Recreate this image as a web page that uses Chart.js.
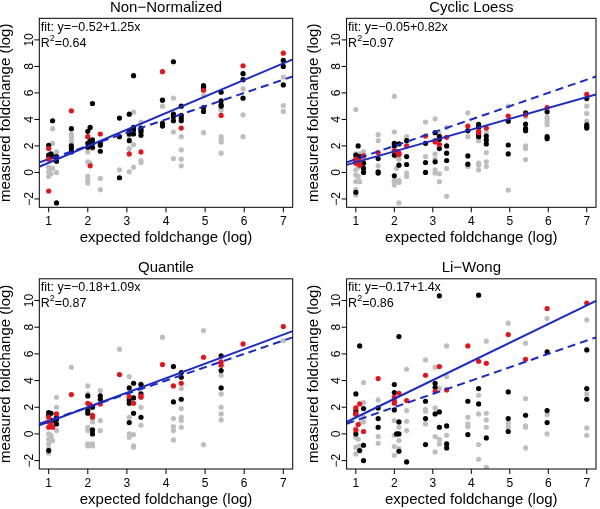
<!DOCTYPE html>
<html>
<head>
<meta charset="utf-8">
<script src="https://cdn.jsdelivr.net/npm/chart.js@4"></script>
<style>
  body { margin: 0; background: #fff; }
  canvas { position: absolute; }
</style>
</head>
<body>
<canvas id="p1" width="300" height="254" style="left:0;top:0"></canvas>
<canvas id="p2" width="300" height="254" style="left:300px;top:0"></canvas>
<canvas id="p3" width="300" height="255" style="left:0;top:254px"></canvas>
<canvas id="p4" width="300" height="255" style="left:300px;top:254px"></canvas>
<script>
// panel labels and fits
var panelTitles = ['Non\u2212Normalized', 'Cyclic Loess', 'Quantile', 'Li\u2212Wong'];
var fitIntercepts = [-0.52, -0.05, -0.18, -0.17];
var fitSlopes = [1.25, 0.82, 1.09, 1.4];
var rSquared = ['0.64', '0.97', '0.87', '0.86'];
var xTicks = [1, 2, 3, 4, 5, 6, 7];
var yTicks = [-2, 0, 2, 4, 6, 8, 10];
var xLabel = 'expected foldchange (log)';
var yLabel = 'measured foldchange (log)';

// Non-Normalized
var nonNormGray = [[1,1.2],[1,0.4],[1,0.05],[1,-0.3],[1.06,0.9],[1.06,-0.1],[1.1,3.3],[1.1,2.2],[1.1,0.3],
  [1.2,1.55],[1.2,0],[1.2,0.9],[1.58,2.9],[1.58,2.7],[1.58,2.4],[1.58,2.2],[2,1.55],[2,0.8],[2,-0.3],[2,-0.6],[2,-0.8],
  [2.12,1.8],[2.06,0.7],[2.32,-0.45],[2.32,-1.3],[2.81,0.2],[3.06,2.7],[3.06,1.8],[3.06,0.05],[3.17,4.55],[3.17,2.1],[3.17,0.4],
  [3.36,3.8],[3.36,0.9],[3.36,0.75],[3.91,5.0],[4.19,5.6],[4.19,3.05],[4.19,1.05],[4.39,2.7],[4.39,1.7],[4.39,1.0],[4.39,0.5],
  [4.96,3.0],[4.96,5.8],[5.41,4.7],[5.41,2.7],[5.41,2.5],[5.41,2.3],[5.41,1.45],[5.97,6.3],[5.97,4.35],[5.97,2.7],
  [7,7.2],[7,5.05],[7,4.6]];
var nonNormBlack = [[1,2.05],[1,1.3],[1.06,1.4],[1.1,3.9],[1.1,1.2],[1.2,-2.3],[1.2,1.2],[1.2,0.85],
  [1.58,3.3],[1.58,2.0],[1.58,1.8],[1.58,1.55],[2,3.1],[2,2.2],[2,1.9],[2.06,3.4],[2.12,5.2],[2.06,2.4],[2.12,2.2],[2.12,1.9],[2.12,2.45],
  [2.32,2.2],[2.32,1.6],[2.32,2.05],[2.81,4.1],[2.81,2.7],[2.81,-0.4],[3.06,4.4],[3.06,2.9],[3.06,2.4],[3.06,3.1],
  [3.17,7.3],[3.17,3.4],[3.17,3.2],[3.17,2.9],[3.36,3.35],[3.36,3.05],[3.36,2.8],[3.36,3.2],[3.91,5.45],[3.91,3.7],[3.91,3.5],
  [4.19,8.35],[4.19,4.4],[4.19,4.2],[4.19,3.9],[4.39,5.0],[4.39,4.3],[4.39,4.1],[4.39,3.9],[4.96,6.55],[4.96,6.4],[4.96,4.9],[4.96,4.6],
  [5.41,6.05],[5.41,5.4],[5.41,5.1],[5.41,5.0],[5.97,7.45],[5.97,7.0],[5.97,5.6],[7,8.45],[7,8.0],[7,6.6]];
var nonNormRed = [[1,1.8],[1,1.0],[1,-1.4],[1.58,4.65],[2,2.7],[2.06,0.5],[2.32,2.9],[3.06,1.4],[3.36,1.55],[3.91,7.6],
  [4.39,3.35],[4.96,6.2],[5.41,4.3],[5.97,8.05],[7,9.0]];

// Cyclic Loess
var loessGray = [[1,4.75],[1,1.4],[1,0.7],[1,0.2],[1,-0.2],[1,-0.7],[1,-1.3],[1,-1.7],[1.06,0.4],[1.06,-0.3],[1.1,-0.7],[1.1,1.4],
  [1.2,1.55],[1.2,1.1],[1.58,2.85],[1.58,2.4],[1.58,0.5],[2,5.75],[2,3.05],[2,2.05],[2,-0.6],[2,-0.7],[2,-0.95],[2.06,1.2],[2.06,0.3],
  [2.12,-0.75],[2.12,-0.6],[2.12,-2.3],[2.12,1.0],[2.32,2.7],[2.32,-0.05],[2.32,-0.3],[2.81,3.8],[2.81,1.2],
  [3.06,4.05],[3.06,1.4],[3.06,0.2],[3.06,-0.05],[3.06,1.0],[3.17,-0.7],[3.17,-0.1],[3.17,2.9],[3.36,3.4],[3.36,-1.8],[3.36,0.3],
  [3.91,4.5],[3.91,2.7],[3.91,0.45],[4.19,2.4],[4.19,0.7],[4.19,0.2],[4.19,0.55],[4.39,1.5],[4.39,0.8],[4.39,0.45],[4.39,3.0],
  [4.96,5.0],[4.96,-1.33],[5.41,4.2],[5.41,2.0],[5.41,1.8],[5.41,0.97],[5.97,4.15],[5.97,3.95],[5.97,3.75],[5.97,3.6],
  [7,5.0],[7,4.45],[7,3.87]];
var loessBlack = [[1,1.3],[1,-1.5],[1,0.9],[1.06,2.0],[1.1,1.2],[1.1,0.7],[1.06,1.0],[1.2,0.7],[1.2,0.3],[1.2,0],
  [1.58,1.05],[1.58,0.05],[1.58,-0.05],[2,2.2],[2,2.0],[2,1.3],[2,-0.25],[2.12,2.15],[2.12,0.55],[2.32,2.4],[2.32,1.2],[2.32,0.6],
  [2.81,2.2],[2.81,0.75],[2.81,0],[3.06,3.0],[3.06,0.8],[3.17,2.7],[3.17,1.8],[3.17,2.5],[3.36,2.0],[3.36,1.45],[3.36,0.9],
  [3.91,3.15],[3.91,1.25],[3.91,0.62],[4.19,3.62],[4.19,3.4],[4.19,2.7],[4.19,2.85],[4.39,2.75],[4.39,2.45],[4.39,2.15],
  [4.96,3.87],[4.96,2.07],[4.96,1.4],[5.41,4.5],[5.41,3.65],[5.41,3.32],[5.41,3.15],[5.97,4.57],[5.97,2.7],[5.97,2.55],
  [7,5.57],[7,3.6],[7,3.45],[7,3.35]];
var loessRed = [[1,1.0],[1,0.7],[1.06,0.9],[1.1,0.55],[1.1,0.8],[1.2,1.25],[1.58,1.5],[2,1.65],[2.06,1.6],[2.12,1.35],[2.12,1.45],
  [2.32,2.0],[2.81,2.75],[3.06,2.3],[3.06,2.4],[3.17,2.1],[3.36,2.65],[3.91,3.5],[4.19,3.1],[4.19,3.0],[4.39,3.35],[4.96,4.25],
  [5.41,4.35],[5.97,4.9],[7,5.9]];

// Quantile
var quantGray = [[1,0],[1,-0.4],[1,-0.75],[1,-1.1],[1,-1.45],[1.06,-0.1],[1.1,-0.5],[1.06,-0.3],[1.2,2.75],[1.2,2.0],[1.2,0.25],
  [1.58,5.0],[2,3.6],[2,3.0],[2,0.5],[2,0.25],[2,-0.75],[2,-0.9],[2.12,-0.75],[2.12,-0.9],[2.12,0.9],[2.06,-0.8],
  [2.32,3.25],[2.32,1.0],[2.32,0.25],[2.81,6.35],[3.06,4.3],[3.06,1.25],[3.06,-0.25],[3.06,0],[3.17,-0.05],[3.17,-0.9],[3.17,-1.0],
  [3.36,3.75],[3.36,2.0],[3.36,0.65],[3.91,7.25],[4.19,1.15],[4.19,0.55],[4.19,0.25],[4.19,-0.45],
  [4.39,3.4],[4.39,1.9],[4.39,1.25],[4.39,1.0],[4.39,0.5],[4.96,7.75],[4.96,-0.8],
  [5.41,4.4],[5.41,3.0],[5.41,2.0],[5.41,1.5],[5.41,1.05],[7,7.0]];
var quantBlack = [[1,1.6],[1,1.4],[1,-1.25],[1.06,1.55],[1.1,1.0],[1.2,1.1],[1.2,0.75],[1.2,1.25],[2,2.85],[2,1.75],[2,1.55],
  [2.12,2.0],[2.12,0],[2.12,0.3],[2.06,2.1],[2.32,2.85],[2.32,2.6],[3.06,3.45],[3.06,2.55],[3.06,2.3],[3.06,0.85],
  [3.17,3.8],[3.17,2.7],[3.17,1.55],[3.36,3.7],[3.36,3.0],[3.36,1.25],[4.19,5.05],[4.19,2.4],[4.39,4.6],[4.39,4.25],[4.39,2.6],
  [5.41,5.85],[5.41,4.75],[5.41,3.45]];
var quantRed = [[1,1.25],[1,0.5],[1,0.9],[1.06,0.75],[1.1,0.5],[1.2,1.5],[1.58,2.95],[2,2.3],[2.06,2.2],[2.12,1.4],[2.12,1.25],
  [2.32,2.25],[2.81,4.45],[3.06,2.8],[3.17,2.3],[3.36,2.85],[3.36,2.75],[3.91,5.2],[4.19,3.6],[4.39,3.8],[4.96,5.75],
  [5.41,5.4],[5.41,5.15],[5.97,6.75],[7,8.05]];

// Li-Wong
var liwongGray = [[1,0.4],[1,-0.25],[1,-1.0],[1,-1.5],[1.06,-0.4],[1.1,-0.9],[1.1,0.8],[1.2,3.85],[1.2,2.35],[1.2,1.25],[1.2,0.9],
  [1.58,2.55],[1.58,-0.2],[1.58,-0.7],[2,1.0],[2,-0.95],[2,-1.6],[2,-0.1],[2.12,-0.5],[2.12,-1.1],[2.12,0.5],
  [2.32,4.85],[2.32,1.75],[2.32,0.95],[2.32,0.25],[2.81,5.55],[2.81,1.85],[2.81,1.7],[2.81,0.75],
  [3.06,5.0],[3.06,1.95],[3.06,-0.2],[3.06,-1.35],[3.17,3.4],[3.17,-0.4],[3.17,-0.75],[3.36,6.6],[3.36,4.3],[3.36,-0.1],
  [3.91,1.25],[3.91,0.75],[3.91,0.55],[4.19,2.9],[4.19,1.5],[4.19,-0.8],[4.19,-1.9],
  [4.39,6.95],[4.39,1.55],[4.39,1.05],[4.39,0.5],[4.39,-2.5],[4.96,8.3],[4.96,0.8],[4.96,0.5],
  [5.41,6.8],[5.41,2.65],[5.41,0.6],[5.41,0.5],[5.41,-1.05],[5.97,8.65],[5.97,1.45],[5.97,0],
  [7,8.55],[7,3.0],[7,0.45],[7,-0.1]];
var liwongBlack = [[1,3.0],[1,1.75],[1,1.5],[1,0],[1.1,6.6],[1.1,-1.25],[1.2,1.9],[1.2,-0.85],[1.2,-2.0],
  [1.58,1.95],[1.58,1.15],[1.58,0.5],[2,3.7],[2,3.1],[2,1.8],[2.12,7.3],[2.12,0.9],[2.06,0],[2.12,0],[2.12,-1.3],[2.32,-2.1],
  [2.81,2.45],[2.81,1.15],[2.81,-0.8],[3.06,3.8],[3.06,3.5],[3.06,1.5],[3.17,10.35],[3.17,1.65],[3.17,0.5],
  [3.36,0.6],[3.36,-0.75],[3.36,-1.05],[3.91,2.45],[3.91,-0.05],[4.19,10.4],[4.19,3.4],[4.19,2.25],[4.39,-0.3],
  [4.96,3.15],[4.96,1.15],[4.96,0.18],[5.41,1.4],[5.97,6.15],[5.97,1.75],[5.97,0.85],[7,6.3],[7,3.4],[7,2.6]];
var liwongRed = [[1,1.95],[1,1.5],[1,0.3],[1.06,0.7],[1.1,2.25],[1.2,0.18],[1.58,4.15],[2,2.75],[2,2.5],[2,2.3],[2.12,3.05],
  [2.32,2.5],[2.81,4.4],[3.06,3.2],[3.17,5.05],[3.36,3.3],[3.91,6.6],[4.19,5.45],[4.39,5.3],[4.96,7.45],[5.41,5.6],
  [5.97,9.4],[7,9.8]];

var grays = [nonNormGray, loessGray, quantGray, liwongGray];
var blacks = [nonNormBlack, loessBlack, quantBlack, liwongBlack];
var reds = [nonNormRed, loessRed, quantRed, liwongRed];

// axis limits (R style 4% padding)
var xMin = 0.76, xMax = 7.24, yMin = -2.63, yMax = 11.63;

// plot box for each panel, canvas coords
var boxes = [
  {l: 39.3, t: 18.3, r: 292.7, b: 207.3},
  {l: 46.6, t: 18.3, r: 299.3, b: 207.3},
  {l: 39.3, t: 24.8, r: 292.7, b: 215},
  {l: 46.6, t: 24.8, r: 299.3, b: 215}
];

var BLUE = '#1c2bc4';
var FONT = '"Liberation Sans", Arial, sans-serif';

function toPts(arr) {
  return arr.map(function (p) { return {x: p[0], y: p[1]}; });
}

function fmt(v) {
  return (v < 0 ? '\u2212' : '') + String(Math.abs(v));
}

// R-like box, ticks and labels
var rAxes = {
  id: 'rAxes',
  afterDraw: function (chart, args, opts) {
    var ctx = chart.ctx;
    var ca = chart.chartArea;
    var xs = chart.scales.x, ys = chart.scales.y;
    var i = opts.panel;
    ctx.save();
    ctx.strokeStyle = '#000';
    ctx.lineWidth = 1;
    ctx.strokeRect(ca.left, ca.top, ca.right - ca.left, ca.bottom - ca.top);

    ctx.fillStyle = '#000';
    ctx.font = '12px ' + FONT;
    ctx.textAlign = 'center';
    ctx.textBaseline = 'middle';
    xTicks.forEach(function (t) {
      var px = xs.getPixelForValue(t);
      ctx.beginPath();
      ctx.moveTo(px, ca.bottom);
      ctx.lineTo(px, ca.bottom + 5);
      ctx.stroke();
      ctx.fillText(String(t), px, ca.bottom + 14.5);
    });
    yTicks.forEach(function (t) {
      var py = ys.getPixelForValue(t);
      ctx.beginPath();
      ctx.moveTo(ca.left, py);
      ctx.lineTo(ca.left - 5, py);
      ctx.stroke();
      ctx.save();
      ctx.translate(ca.left - 9.5, py);
      ctx.rotate(-Math.PI / 2);
      ctx.fillText(t < 0 ? '\u2212' + Math.abs(t) : String(t), 0, 0);
      ctx.restore();
    });

    var cx = (ca.left + ca.right) / 2;
    var cy = (ca.top + ca.bottom) / 2;
    ctx.font = '15px ' + FONT;
    ctx.textBaseline = 'alphabetic';
    ctx.fillText(panelTitles[i], cx, ca.top - 6.5);
    ctx.textBaseline = 'middle';
    ctx.fillText(xLabel, cx, ca.bottom + 30.5);
    ctx.save();
    ctx.translate(ca.left - 33, cy);
    ctx.rotate(-Math.PI / 2);
    ctx.fillText(yLabel, 0, 0);
    ctx.restore();

    // fit annotation
    ctx.textAlign = 'left';
    ctx.font = '12.5px ' + FONT;
    var fitText = 'fit: y=' + fmt(fitIntercepts[i]) + '+' + fitSlopes[i] + 'x';
    ctx.fillText(fitText, ca.left + 1.5, ca.top + 9);
    var x0 = ca.left + 1.5, y0 = ca.top + 25;
    ctx.fillText('R', x0, y0);
    var w = ctx.measureText('R').width;
    ctx.font = '9px ' + FONT;
    ctx.fillText('2', x0 + w, y0 - 5);
    var w2 = ctx.measureText('2').width;
    ctx.font = '12.5px ' + FONT;
    ctx.fillText('=' + rSquared[i], x0 + w + w2, y0);
    ctx.restore();
  }
};

function makePanel(i) {
  var cv = document.getElementById('p' + (i + 1));
  var b = boxes[i];
  var a = fitIntercepts[i], s = fitSlopes[i];
  new Chart(cv, {
    type: 'scatter',
    data: {
      datasets: [
        {
          data: [{x: xMin, y: a + s * xMin}, {x: xMax, y: a + s * xMax}],
          showLine: true, borderColor: BLUE, borderWidth: 2, pointRadius: 0, clip: 0
        },
        {
          data: [{x: xMin, y: xMin}, {x: xMax, y: xMax}],
          showLine: true, borderColor: BLUE, borderWidth: 2, borderDash: [8, 5], pointRadius: 0, clip: 0
        },
        { data: toPts(reds[i]), backgroundColor: '#e5141c', pointRadius: 2.6, pointBorderWidth: 0 },
        { data: toPts(blacks[i]), backgroundColor: '#000000', pointRadius: 2.6, pointBorderWidth: 0 },
        { data: toPts(grays[i]), backgroundColor: '#bebebe', pointRadius: 2.6, pointBorderWidth: 0 }
      ]
    },
    options: {
      responsive: false,
      animation: false,
      devicePixelRatio: 1,
      layout: {
        padding: {left: b.l, top: b.t, right: cv.width - b.r, bottom: cv.height - b.b}
      },
      plugins: {
        legend: { display: false },
        tooltip: { enabled: false },
        rAxes: { panel: i }
      },
      scales: {
        x: { type: 'linear', min: xMin, max: xMax, display: false },
        y: { type: 'linear', min: yMin, max: yMax, display: false }
      }
    },
    plugins: [rAxes]
  });
}

for (var k = 0; k < 4; k++) {
  makePanel(k);
}
</script>
</body>
</html>
